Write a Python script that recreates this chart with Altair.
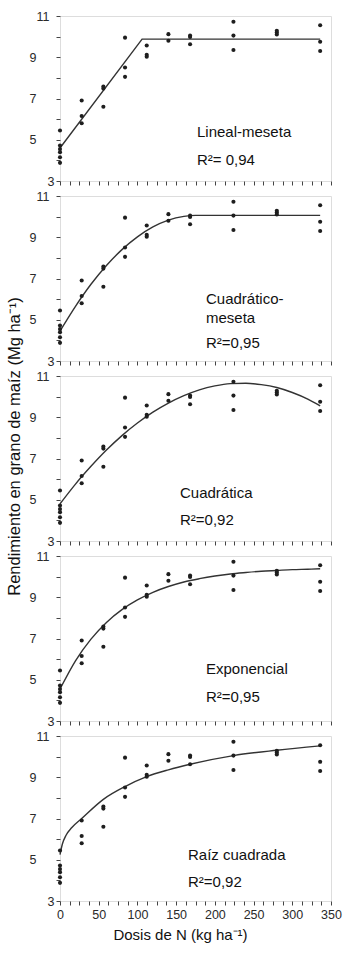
import altair as alt
import pandas as pd

# ---------------- data ----------------
N_POINTS = [0, 0, 0, 0, 0, 0,
            28, 28, 28,
            56, 56, 56,
            84, 84, 84,
            112, 112, 112,
            140, 140,
            168, 168, 168,
            224, 224, 224,
            280, 280, 280,
            336, 336, 336]
YIELD_POINTS = [5.45, 4.72, 4.55, 4.4, 4.15, 3.88,
                6.9, 6.15, 5.8,
                7.58, 7.48, 6.6,
                9.95, 8.5, 8.05,
                9.57, 9.12, 9.03,
                10.12, 9.8,
                10.05, 9.98, 9.63,
                10.72, 10.05, 9.35,
                10.28, 10.2, 10.1,
                10.55, 9.75, 9.3]

MODEL_NAMES = ["Lineal-meseta", "Cuadrático-meseta", "Cuadrática",
               "Exponencial", "Raíz cuadrada"]
LABEL_LINES = [["Lineal-meseta"], ["Cuadrático-", "meseta"], ["Cuadrática"],
               ["Exponencial"], ["Raíz cuadrada"]]
R2_LABELS = ["R²= 0,94", "R²=0,95", "R²=0,92", "R²=0,95", "R²=0,92"]

# fitted curves, values
CURVE_X = [
    [0, 106, 336],
    [0, 20, 40, 60, 80, 100, 120, 140, 160, 175, 336],
    [0, 20, 40, 60, 80, 100, 120, 140, 160, 180, 200, 220, 240, 260, 280, 300, 320, 336],
    [0, 20, 40, 60, 80, 100, 120, 140, 160, 180, 200, 220, 240, 260, 280, 300, 320, 336],
    [0, 3, 8, 15, 28, 56, 84, 112, 140, 168, 224, 280, 336],
]
CURVE_Y = [
    [4.6, 9.88, 9.88],
    [4.45, 5.65, 6.72, 7.63, 8.40, 9.02, 9.50, 9.83, 10.01, 10.06, 10.06],
    [4.80, 5.76, 6.62, 7.41, 8.11, 8.72, 9.25, 9.69, 10.05, 10.33, 10.52, 10.63,
     10.65, 10.58, 10.44, 10.20, 9.88, 9.55],
    [4.55, 5.92, 6.97, 7.78, 8.40, 8.87, 9.24, 9.52, 9.74, 9.90, 10.03, 10.13,
     10.20, 10.26, 10.30, 10.34, 10.36, 10.38],
    [5.25, 5.75, 6.2, 6.55, 7.0, 7.93, 8.55, 9.03, 9.36, 9.63, 10.05, 10.31, 10.52],
]

X_TICKS = [i * 12.5 for i in range(29)]
Y_TICKS = [3, 4, 5, 6, 7, 8, 9, 10, 11]

# ---------------- styling ----------------
FONT = "Liberation Sans"
INK = "#2a2a2a"
W, H = 271, 165
# annotation pixel positions inside each panel: (x, [y of name lines], y of R2)
ANNOT_POS = [
    (137, [116], 144),
    (146, [103, 122], 147),
    (120, [117], 144),
    (146, [113], 141),
    (128, [119], 146),
]
CURVE_INTERP = ["linear", "monotone", "monotone", "monotone", "monotone"]

pts_df = pd.DataFrame({"N": N_POINTS, "Y": YIELD_POINTS})

x_scale = alt.Scale(domain=[0, 350], nice=False, zero=False)
y_scale = alt.Scale(domain=[3, 11], nice=False, zero=False)

y_label_pad = {
    "condition": [
        {"test": "datum.value == 3", "value": 2},
        {"test": "datum.value == 11", "value": 7},
    ],
    "value": 20,
}

panels = []
for i in range(5):
    bottom = i == 4
    x_axis = alt.Axis(
        values=X_TICKS,
        labels=bottom,
        labelExpr="datum.value % 50 == 0 ? format(datum.value, 'd') : ''",
        labelOverlap=False,
        title="Dosis de N (kg ha⁻¹)" if bottom else None,
        titleFontSize=15, titleFontWeight="normal", titlePadding=7,
        titleColor="#111", titleX=120, titleAlign="center",
        labelFontSize=12.5, labelColor=INK, labelPadding=3,
        tickSize=4, tickColor="#444", domain=False, grid=False,
        labelFlush=False,
    )
    y_axis_kwargs = dict(
        values=Y_TICKS,
        labelExpr="datum.value % 2 == 1 ? datum.label : ''",
        labelOverlap=False,
        labelFontSize=12.5, labelColor=INK,
        labelPadding=y_label_pad,
        tickSize=4, tickColor="#444", domain=False, grid=False,
        labelFlush=False,
    )
    if i == 2:
        y_axis = alt.Axis(
            title="Rendimiento en grano de maíz (Mg ha⁻¹)",
            titleFontSize=16.5, titleFontWeight="normal", titleColor="#111",
            titleX=-46, titleY=70, titleAngle=270,
            titleAlign="center", titleBaseline="middle",
            **y_axis_kwargs,
        )
    else:
        y_axis = alt.Axis(title=None, **y_axis_kwargs)

    cdf = pd.DataFrame({"N": CURVE_X[i], "Y": CURVE_Y[i]})
    line = alt.Chart(cdf).mark_line(
        color="#333", strokeWidth=1.4, interpolate=CURVE_INTERP[i]
    ).encode(
        x=alt.X("N:Q", scale=x_scale, axis=x_axis),
        y=alt.Y("Y:Q", scale=y_scale, axis=y_axis),
    )
    pts = alt.Chart(pts_df).mark_circle(size=17, color="#1e1e1e", opacity=1).encode(
        x=alt.X("N:Q", scale=x_scale, axis=x_axis),
        y=alt.Y("Y:Q", scale=y_scale, axis=y_axis),
    )
    tx, name_ys, r2y = ANNOT_POS[i]
    texts = []
    for line_txt, ty in zip(LABEL_LINES[i], name_ys):
        texts.append(
            alt.Chart(pts_df.head(1)).mark_text(
                text=line_txt, align="left", baseline="middle",
                fontSize=15, font=FONT, color="#111",
            ).encode(x=alt.value(tx), y=alt.value(ty))
        )
    texts.append(
        alt.Chart(pts_df.head(1)).mark_text(
            text=R2_LABELS[i], align="left", baseline="middle",
            fontSize=15, font=FONT, color="#111",
        ).encode(x=alt.value(tx), y=alt.value(r2y))
    )
    panel = alt.layer(line, pts, *texts).properties(width=W, height=H)
    panels.append(panel)

chart = alt.vconcat(*panels, spacing=15, bounds="flush").properties(
    padding={"left": 5, "top": 9, "right": 5, "bottom": 5},
    background="white",
).configure_view(
    stroke="#3a3a3a", strokeWidth=1.2
).configure(
    font=FONT
)

chart.save("out.html", embed_options={"renderer": "svg", "actions": False})
